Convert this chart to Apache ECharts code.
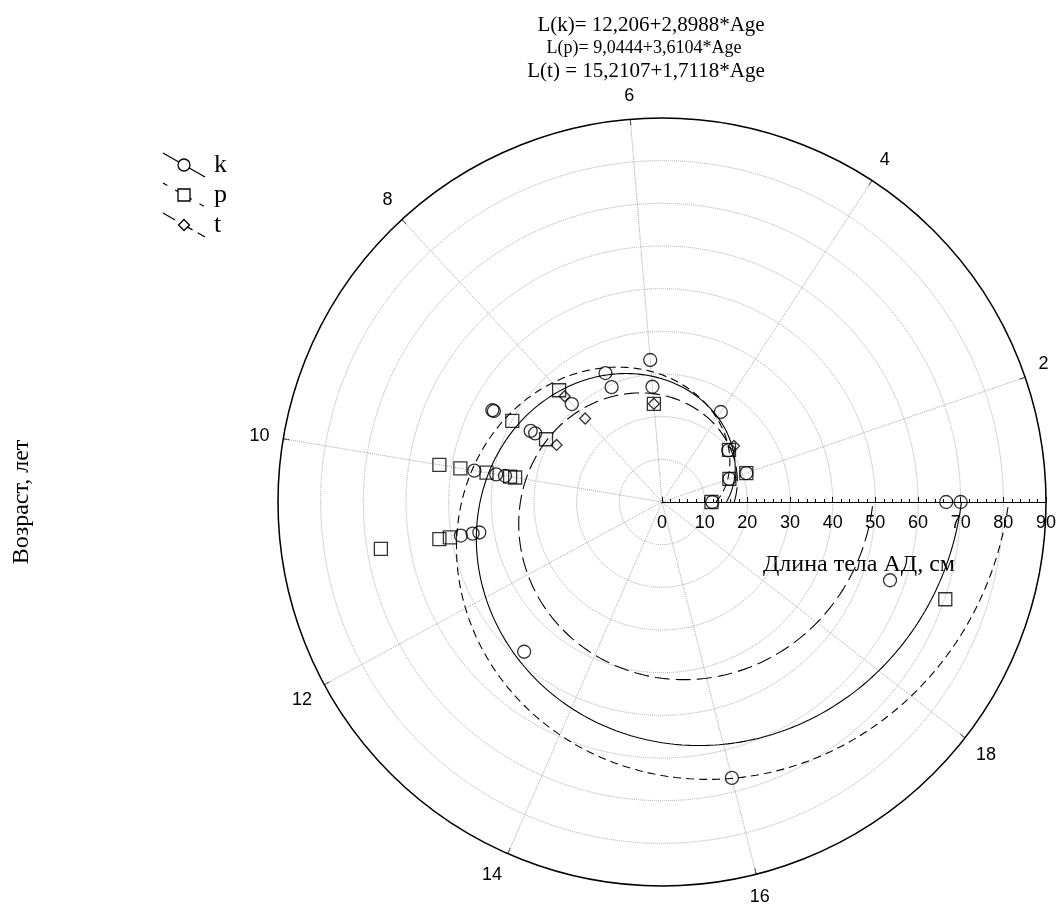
<!DOCTYPE html>
<html><head><meta charset="utf-8">
<script src="https://cdn.jsdelivr.net/npm/echarts@6/dist/echarts.min.js"></script>
<style>html,body{margin:0;padding:0;background:#fff}#c{width:1058px;height:910px}</style>
</head><body><div id="c"></div>
<script>
// ---- axes ----
const ageTicks = [2, 4, 6, 8, 10, 12, 14, 16, 18];
const ageMin = 1, ageMax = 20;
const radiusMin = 0, radiusMax = 90, radiusStep = 10;

// ---- fitted lines (coefficients printed on the chart) ----
const fitNames = ['k', 'p', 't'];
const fitIntercept = [12.206, 9.0444, 15.2107];
const fitSlope = [2.8988, 3.6104, 1.7118];
const equations = ['L(k)= 12,206+2,8988*Age', 'L(p)= 9,0444+3,6104*Age', 'L(t) = 15,2107+1,7118*Age'];

// ---- observed points (age, length) ----
const kAges = [1, 2, 2, 3, 4, 6, 6, 7, 7, 8, 9, 9, 9, 9, 10, 10, 10, 11, 11, 11, 13, 16, 19, 20, 20];
const kLens = [11.8, 16.7, 20.9, 19.7, 25.2, 33.4, 27.1, 33.0, 29.4, 31.2, 45.2, 44.8, 35.0, 33.8, 44.6, 39.4, 37.3, 47.8, 45.0, 43.4, 47.7, 66.7, 56.5, 66.6, 70.0];
const pAges = [1, 2, 2, 3, 6, 8, 9, 9, 10, 10, 10, 10, 10, 11, 11, 11, 19];
const pLens = [11.6, 16.7, 20.9, 19.9, 23.1, 35.6, 39.9, 30.9, 52.9, 47.9, 41.7, 36.1, 34.9, 66.8, 52.9, 50.4, 70.2];
const tAges = [3, 6, 8, 8, 9];
const tLens = [21.4, 23.1, 33.7, 26.6, 28.1];

const yTitle = 'Возраст, лет';
const xTitle = 'Длина тела АД, см';

function fitLine(i) {
  const out = [];
  for (let s = 0; s <= 380; s++) {
    const a = ageMin + s * (ageMax - ageMin) / 380;
    out.push([fitIntercept[i] + fitSlope[i] * a, a]);
  }
  return out;
}
function pts(ages, lens) { return ages.map((a, i) => [lens[i], a]); }

const serif = '"Liberation Serif", "Times New Roman", serif';
const sans = '"Liberation Sans", Arial, sans-serif';
const lineTypes = ['solid', [8, 5], [15, 6]];
const symbols = ['circle', 'rect', 'diamond'];
const symSizes = [13, 13, 11];
const markerStyle = { color: 'rgba(255,255,255,0)', borderColor: '#000', borderWidth: 1.3 };

const series = [];
fitNames.forEach((n, i) => {
  series.push({
    name: n + '-fit', type: 'line', coordinateSystem: 'polar', data: fitLine(i),
    showSymbol: false, symbol: 'none', silent: true,
    lineStyle: { color: '#000', width: 1.1, type: lineTypes[i] }
  });
});
[[kAges, kLens], [pAges, pLens], [tAges, tLens]].forEach((d, i) => {
  series.push({
    name: fitNames[i], type: 'scatter', coordinateSystem: 'polar', data: pts(d[0], d[1]),
    symbol: symbols[i], symbolSize: symSizes[i], itemStyle: markerStyle, z: 5
  });
});

// legend drawn as graphics
const legendY = [165, 195, 225];
const graphics = [];
fitNames.forEach((n, i) => {
  const y = legendY[i];
  graphics.push({ type: 'line', shape: { x1: 163, y1: y - 12, x2: 205, y2: y + 12 },
    style: { stroke: '#000', lineWidth: 1.2, lineDash: i === 0 ? null : (i === 1 ? [5, 9] : [14, 6]) } });
  if (i === 0) graphics.push({ type: 'circle', shape: { cx: 184, cy: y, r: 6 }, style: { fill: '#fff', stroke: '#000', lineWidth: 1.3 } });
  if (i === 1) graphics.push({ type: 'rect', shape: { x: 178, y: y - 6, width: 12, height: 12 }, style: { fill: '#fff', stroke: '#000', lineWidth: 1.3 } });
  if (i === 2) graphics.push({ type: 'polygon', shape: { points: [[184, y - 5.5], [189.5, y], [184, y + 5.5], [178.5, y]] }, style: { fill: '#fff', stroke: '#000', lineWidth: 1.3 } });
  graphics.push({ type: 'text', x: 214, y: y, style: { text: n, font: '26px ' + serif, fill: '#000', textAlign: 'left', textVerticalAlign: 'middle' } });
});
const eqY = [25, 48, 71];
const eqSize = [21, 18, 21];
const eqX = [651, 644, 646];
equations.forEach((e, i) => {
  graphics.push({ type: 'text', x: eqX[i], y: eqY[i], style: { text: e, font: eqSize[i] + 'px ' + serif, fill: '#000', textAlign: 'center', textVerticalAlign: 'middle' } });
});
graphics.push({ type: 'text', x: 22, y: 502, rotation: Math.PI / 2, style: { text: yTitle, font: '24px ' + serif, fill: '#000', textAlign: 'center', textVerticalAlign: 'middle' } });
graphics.push({ type: 'text', x: 859, y: 565, style: { text: xTitle, font: '24px ' + serif, fill: '#000', textAlign: 'center', textVerticalAlign: 'middle' } });

const chart = echarts.init(document.getElementById('c'), null, { renderer: 'canvas' });
chart.setOption({
  animation: false,
  backgroundColor: '#fff',
  polar: { center: [662, 502], radius: 384 },
  angleAxis: {
    type: 'value', min: ageMin, max: ageMax, startAngle: 0, clockwise: false,
    interval: 1,
    axisLine: { show: true, lineStyle: { color: '#000', width: 1.5 } },
    axisTick: { show: true, inside: true, length: 6, customValues: ageTicks, lineStyle: { color: '#000', width: 1 } },
    axisLabel: { show: true, customValues: ageTicks, margin: 14, color: '#000', fontFamily: sans, fontSize: 18 },
    splitLine: { show: true, lineStyle: { color: '#a8a8a8', width: 1, type: 'dotted' } }
  },
  radiusAxis: {
    type: 'value', min: radiusMin, max: radiusMax, interval: radiusStep,
    axisLine: { show: true, lineStyle: { color: '#000', width: 1.2 } },
    axisTick: { show: true, length: 5, lineStyle: { color: '#000' } },
    minorTick: { show: true, splitNumber: 5, length: 3, lineStyle: { color: '#000' } },
    axisLabel: { show: true, color: '#000', fontFamily: sans, fontSize: 18, margin: -12, verticalAlign: 'top' },
    splitLine: { show: true, lineStyle: { color: '#a8a8a8', width: 1, type: 'dotted' } }
  },
  series: series,
  graphic: { elements: graphics }
});
</script></body></html>
